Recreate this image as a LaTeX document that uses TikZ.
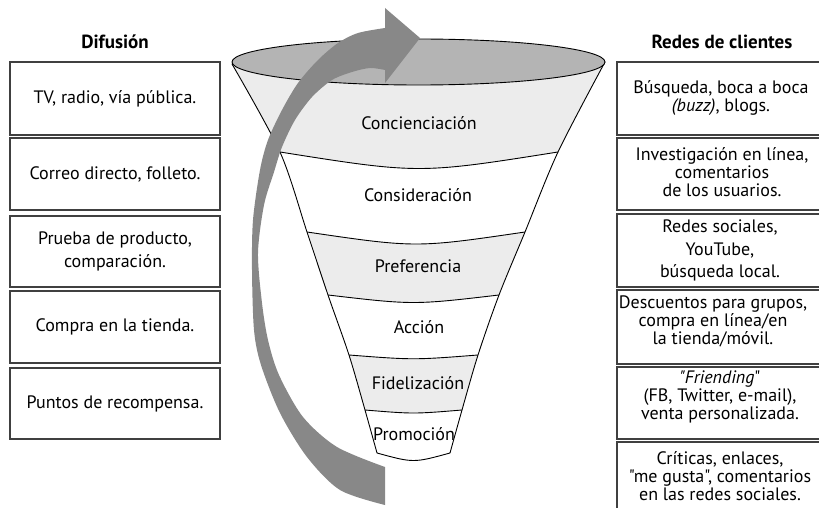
\documentclass[tikz,border=0pt]{standalone}
\usepackage{fontspec}
\setmainfont{PT Sans}[Ligatures=TeXOff]
\definecolor{boxline}{HTML}{404040}
\definecolor{bandgray}{HTML}{ECECEC}
\definecolor{rimgray}{HTML}{B4B4B4}
\definecolor{arrowgray}{HTML}{888888}
\begin{document}
\begin{tikzpicture}[x=1pt,y=-1pt,
  txt/.style={font=\fontsize{18}{18}\selectfont, align=center, inner sep=0pt},
  wide/.style={font=\fontsize{18}{22.5}\selectfont, align=center, inner sep=0pt},
  head/.style={font=\fontsize{19}{19}\selectfont\bfseries, inner sep=0pt},
  lbox/.style={draw=boxline, line width=1.1pt, minimum width=210pt, inner sep=0pt},
  rbox/.style={draw=boxline, line width=1.1pt},
  edge/.style={draw=black, line width=0.9pt},
  stage/.style={font=\fontsize{18}{18}\selectfont, inner sep=0pt}]
\useasboundingbox (0,0) rectangle (819,508);
\clip (0,0) rectangle (819,508);

% column headings
\node[head] (hl) at (115,42) {Difusión};
\node[head] (hr) at (722,42) {Redes de clientes};

% left column
\node[lbox, minimum height=73pt, txt] (l1) at (115,98.5) {TV, radio, vía pública.};
\node[lbox, minimum height=72pt, txt] (l2) at (115,174) {Correo directo, folleto.};
\node[lbox, minimum height=71pt, wide] (l3) at (115,251.5) {Prueba de producto,\\comparación.};
\node[lbox, minimum height=72pt, txt] (l4) at (115,327) {Compra en la tienda.};
\node[lbox, minimum height=71pt, txt] (l5) at (115,403.5) {Puntos de recompensa.};

% right column frames (open to the right)
\draw[rbox] (617,62) rectangle (830,135);
\draw[rbox] (617,138) rectangle (830,210);
\draw[rbox] (617,214) rectangle (830,287);
\draw[rbox] (617,290) rectangle (830,364);
\draw[rbox] (617,367) rectangle (830,439);
\draw[rbox] (617,442) rectangle (830,530);

% right column texts
\node[txt] (r1) at (721,98.5) {Búsqueda, boca a boca\\\textit{(buzz)}, blogs.};
\node[txt] (r2) at (722,172) {Investigación en línea,\\comentarios\\de los usuarios.};
\node[wide] (r3) at (720,250.5) {Redes sociales,\\YouTube,\\búsqueda local.};
\node[txt] (r4) at (713,321) {Descuentos para grupos,\\compra en línea/en\\la tienda/móvil.};
\node[txt] (r5) at (720,396.5) {\textit{"Friending}"\\(FB, Twitter, e-mail),\\venta personalizada.};
\node[txt] (r6) at (720,476.5) {Críticas, enlaces,\\"me gusta", comentarios\\en las redes sociales.};

% funnel outline points
\coordinate (L0) at (232,64);  \coordinate (R0) at (605,62);
\coordinate (L1) at (280,152); \coordinate (R1) at (558,152);
\coordinate (L2) at (307,232); \coordinate (R2) at (525,232);
\coordinate (L3) at (328,295); \coordinate (R3) at (499,295);
\coordinate (L4) at (349,355); \coordinate (R4) at (478,355);
\coordinate (L5) at (365,410); \coordinate (R5) at (462,410);
\coordinate (L6) at (377,453); \coordinate (R6) at (450,453);

\def\funnelpath{plot[smooth] coordinates {(L0) (L1) (L2) (L3) (L4) (L5) (L6)}
  .. controls (413.5,463) .. (R6)
  -- plot[smooth] coordinates {(R6) (R5) (R4) (R3) (R2) (R1) (R0)} -- cycle}

\fill[white] \funnelpath;
\begin{scope}
  \clip \funnelpath;
  \fill[bandgray] (150,40) -- (680,40) -- (680,152) -- (R1)
     .. controls (419,174) .. (L1) -- (150,152) -- cycle;
  \fill[bandgray] (150,232) -- (L2) .. controls (416,248) .. (R2) -- (680,232)
     -- (680,295) -- (R3) .. controls (413.5,305) .. (L3) -- (150,295) -- cycle;
  \fill[bandgray] (150,355) -- (L4) .. controls (413.5,360) .. (R4) -- (680,355)
     -- (680,410) -- (R5) .. controls (413.5,414) .. (L5) -- (150,410) -- cycle;
\end{scope}

% band boundaries
\draw[edge] (L1) .. controls (419,174) .. (R1);
\draw[edge] (L2) .. controls (416,248) .. (R2);
\draw[edge] (L3) .. controls (413.5,305) .. (R3);
\draw[edge] (L4) .. controls (413.5,360) .. (R4);
\draw[edge] (L5) .. controls (413.5,414) .. (R5);
\draw[edge, line join=round] \funnelpath;

% open rim
\draw[edge, fill=rimgray] (418.5,62) ellipse [x radius=186.5pt, y radius=23pt];

% stage labels
\node[stage] (s1) at (419,123) {Concienciación};
\node[stage] (s2) at (418,195) {Consideración};
\node[stage] (s3) at (418,266) {Preferencia};
\node[stage] (s4) at (419,327) {Acción};
\node[stage] (s5) at (418,383) {Fidelización};
\node[stage] (s6) at (414,434) {Promoción};

% curved arrow sweeping up around the funnel
\fill[arrowgray]
  plot[smooth] coordinates {(385,505) (340,490) (307,457) (280,413) (261,365)
     (254,330) (252,270) (253,220) (260,170) (268,140) (282,110) (298,83)
     (318,60) (338,43) (358,33) (385,28)}
  -- (385,8) -- (420,38) -- (385,83) -- (385,70)
  -- plot[smooth] coordinates {(385,70) (370,68) (352,72) (332,80) (312,97)
     (295,120) (282,147) (274,172) (264,205) (258,253) (262,303) (268,340)
     (279,375) (303,417) (337,447) (385,467)}
  -- cycle;
\end{tikzpicture}
\end{document}
